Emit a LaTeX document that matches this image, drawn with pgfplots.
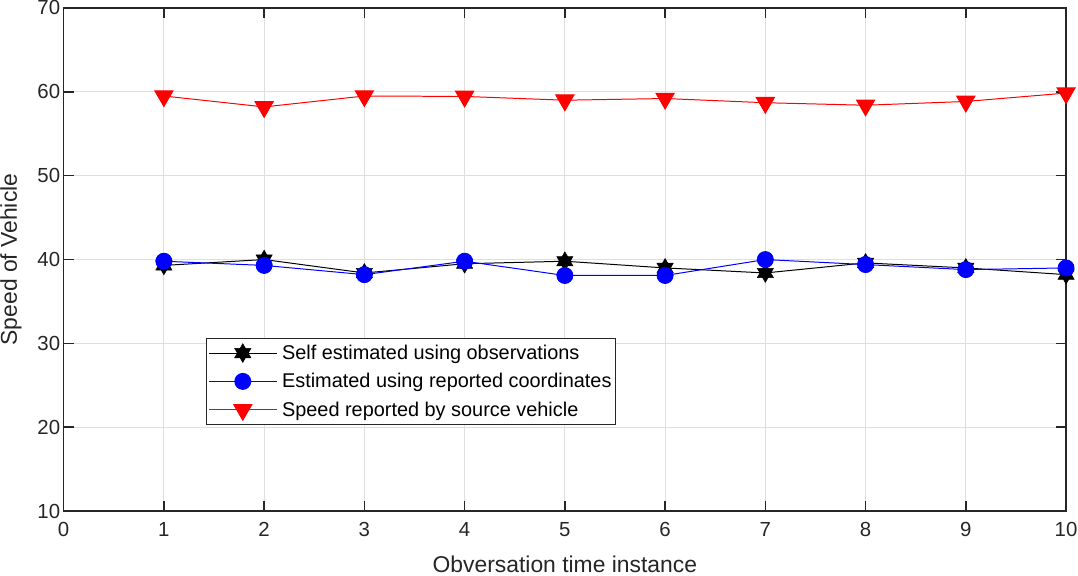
\documentclass[border=0pt]{standalone}
\usepackage{pgfplots}
\pgfplotsset{compat=1.18}
\usepackage{fontspec}
\setmainfont{Liberation Sans}
\definecolor{axgray}{HTML}{262626}
\pgfdeclareplotmark{hexagram}{%
  \pgfpathmoveto{\pgfqpointpolar{90}{1.15\pgfplotmarksize}}%
  \pgfpathlineto{\pgfqpointpolar{210}{1.15\pgfplotmarksize}}%
  \pgfpathlineto{\pgfqpointpolar{330}{1.15\pgfplotmarksize}}%
  \pgfpathclose
  \pgfpathmoveto{\pgfqpointpolar{270}{1.15\pgfplotmarksize}}%
  \pgfpathlineto{\pgfqpointpolar{30}{1.15\pgfplotmarksize}}%
  \pgfpathlineto{\pgfqpointpolar{150}{1.15\pgfplotmarksize}}%
  \pgfpathclose
  \pgfusepathqfillstroke}
\begin{document}
\begin{tikzpicture}
\begin{axis}[
  scale only axis,
  width=1008pt, height=506pt,
  xmin=0, xmax=10, ymin=10, ymax=70,
  xtick={0,1,...,10}, ytick={10,20,...,70},
  grid=major,
  major grid style={draw=black!13, line width=1pt},
  axis line style={line width=1.6pt, axgray},
  tick style={axgray, line width=1.6pt},
  major tick length=10pt,
  tick align=inside,
  ticklabel style={font=\fontsize{20.5}{24}\selectfont, text=axgray},
  xticklabel style={yshift=-8pt},
  /pgf/number format/assume math mode=true,
  xlabel={Obversation time instance},
  ylabel={Speed of Vehicle},
  label style={font=\fontsize{23}{27}\selectfont, text=axgray},
  xlabel style={at={(axis description cs:0.5,0)}, anchor=center, yshift=-53pt},
  ylabel style={at={(axis description cs:-0.0526,0.5)}, anchor=center},
  legend style={at={(rel axis cs:0.1419,0.344)}, anchor=north west,
    font=\fontsize{20}{24}\selectfont, draw=axgray, line width=1.2pt,
    inner xsep=2pt, inner ysep=4.5pt, row sep=8.5pt,
    /tikz/every odd column/.append style={column sep=3pt}},
  legend cell align=left,
  legend image code/.code={%
    \draw[#1] (0pt,0pt) -- (68pt,0pt);
    \draw[#1,mark repeat=2,mark phase=2] plot coordinates {(0pt,0pt) (34pt,0pt) (68pt,0pt)};},
]
\addplot[black, line width=1pt, mark=hexagram, mark size=8.2pt, mark options={fill=black, draw=black, line width=0.5pt}]
coordinates {(1,39.3) (2,40.0) (3,38.4) (4,39.5) (5,39.8) (6,39.0) (7,38.4) (8,39.6) (9,39.0) (10,38.2)};
\addlegendentry{Self estimated using observations}
\addplot[blue, line width=1pt, mark=*, mark size=8pt, mark options={fill=blue, draw=blue}]
coordinates {(1,39.8) (2,39.3) (3,38.2) (4,39.8) (5,38.1) (6,38.1) (7,40.0) (8,39.4) (9,38.8) (10,39.0)};
\addlegendentry{Estimated using reported coordinates}
\addplot[red, line width=1pt, mark=triangle*, mark size=10.5pt, mark options={fill=red, draw=red, rotate=180}]
coordinates {(1,59.5) (2,58.2) (3,59.5) (4,59.45) (5,59.0) (6,59.2) (7,58.7) (8,58.4) (9,58.85) (10,59.85)};
\addlegendentry{Speed reported by source vehicle}
\end{axis}
\pgfresetboundingbox
\path[use as bounding box] ([shift={(-64pt,-65pt)}]current axis.south west) rectangle ([shift={(12pt,8pt)}]current axis.north east);
\end{tikzpicture}
\end{document}
